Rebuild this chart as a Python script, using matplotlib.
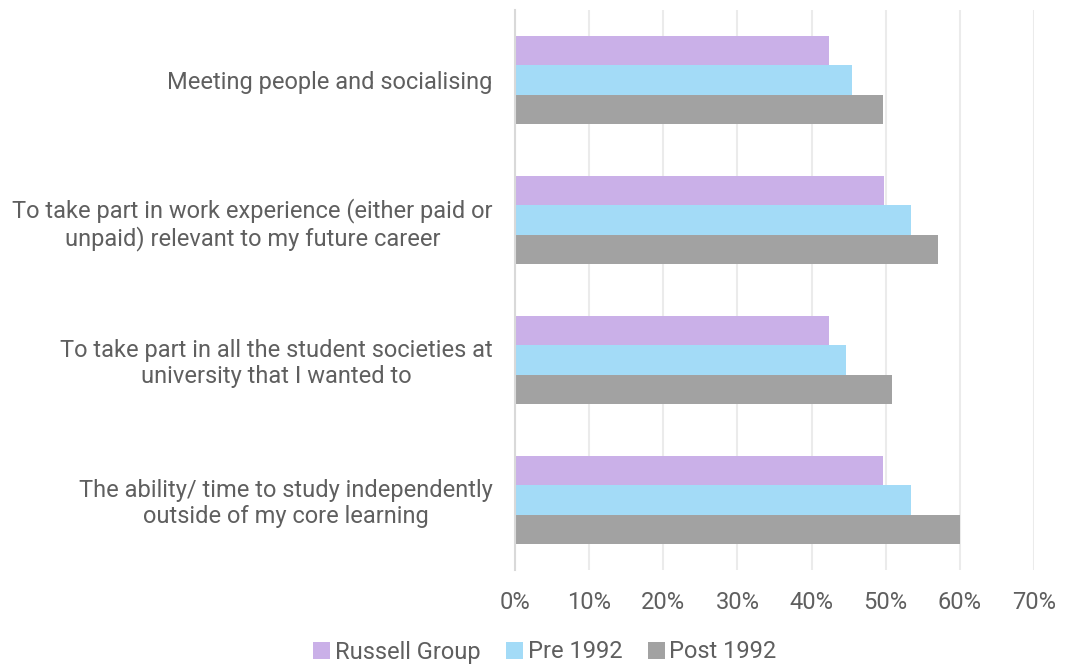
import matplotlib
matplotlib.use("Agg")
import matplotlib.pyplot as plt
import numpy as np

categories = [
    "Meeting people and socialising",
    "To take part in work experience (either paid or\nunpaid) relevant to my future career",
    "To take part in all the student societies at\nuniversity that I wanted to",
    "The ability/ time to study independently\noutside of my core learning",
]
series_names = ["Russell Group", "Pre 1992", "Post 1992"]
russell = [0.424, 0.498, 0.423, 0.496]
pre1992 = [0.454, 0.534, 0.446, 0.534]
post1992 = [0.497, 0.571, 0.508, 0.600]
colors = ["#CAB0E8", "#A3DBF7", "#A2A2A2"]
xticks = [0, 0.1, 0.2, 0.3, 0.4, 0.5, 0.6, 0.7]
xticklabels = ["0%", "10%", "20%", "30%", "40%", "50%", "60%", "70%"]

plt.rcParams['font.family'] = ['Roboto', 'DejaVu Sans']
text_color = "#5F5F5F"

fig = plt.figure(figsize=(10.65, 6.66), dpi=100)
ax = fig.add_axes([515/1065, 1-570/666, (1034-515)/1065, 560/666])

y = np.arange(len(categories))
h = 0.21
for i, (vals, name, c) in enumerate(zip([russell, pre1992, post1992], series_names, colors)):
    ax.barh(y + (i - 1) * h, vals, height=h, color=c, label=name, zorder=3)

ax.set_ylim(3.5, -0.5)
ax.set_xlim(0, 0.7)
ax.set_xticks(xticks)
ax.set_xticklabels(xticklabels, fontsize=17, color=text_color)
ax.set_yticks(y)
ax.set_yticklabels(categories, fontsize=17, color=text_color, ha='right', multialignment='center',
                   linespacing=1.15)
ax.tick_params(axis='y', length=0, pad=16)
ax.tick_params(axis='x', length=0, pad=15)
ax.grid(axis='x', color="#EBEBEB", linewidth=1.5, zorder=0)
for s in ["top", "right", "bottom"]:
    ax.spines[s].set_visible(False)
ax.spines["left"].set_color("#D9D9D9")
ax.spines["left"].set_linewidth(1.5)
ax.spines["left"].set_zorder(4)

leg = fig.legend(loc="center", bbox_to_anchor=(545/1065, 1-652/666), ncol=3, frameon=False,
                 fontsize=17, handlelength=0.7, handleheight=0.7, handletextpad=0.2, columnspacing=1.1)
for t in leg.get_texts():
    t.set_color(text_color)

fig.savefig("out.png", dpi=100)
